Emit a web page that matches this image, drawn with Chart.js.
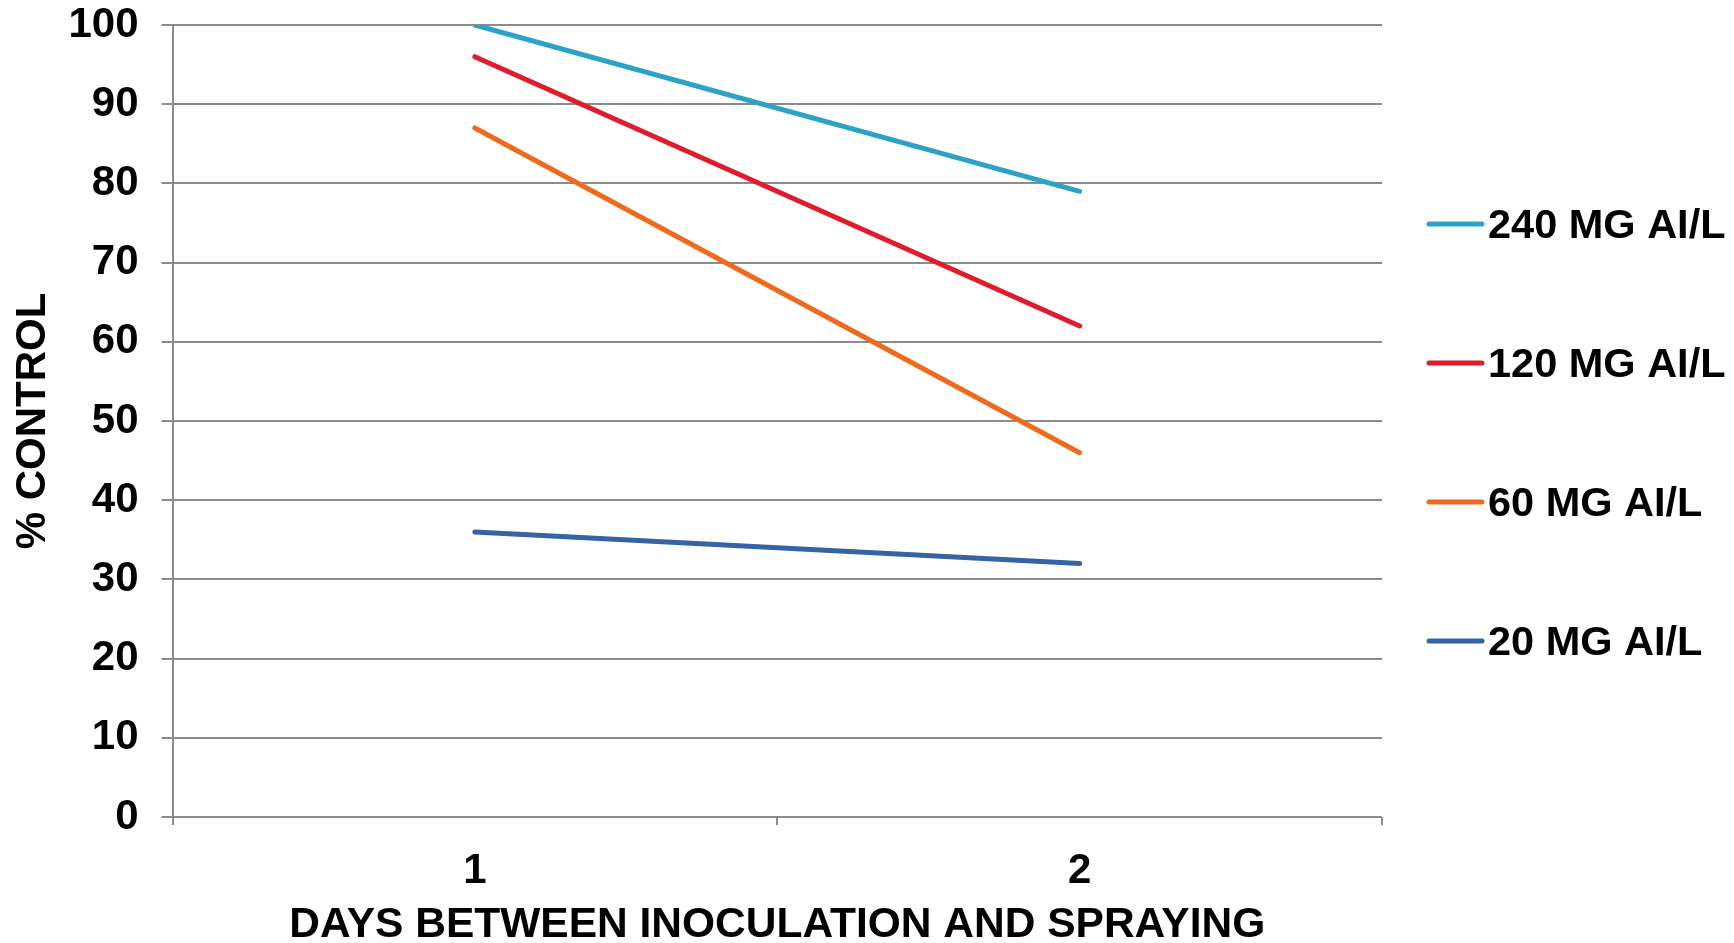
<!DOCTYPE html>
<html>
<head>
<meta charset="utf-8">
<script src="https://cdn.jsdelivr.net/npm/chart.js@4/dist/chart.umd.min.js"></script>
<style>
  html, body { margin: 0; padding: 0; background: #fff; }
  #wrap { width: 1734px; height: 943px; }
</style>
</head>
<body>
<div id="wrap"><canvas id="controlChart"></canvas></div>
<script>
const days = ['1', '2'];
const seriesNames = ['240 MG AI/L', '120 MG AI/L', '60 MG AI/L', '20 MG AI/L'];
const dose240 = [100, 79];
const dose120 = [96, 62];
const dose60 = [87, 46];
const dose20 = [36, 32];
const seriesColors = ['#2ba3c6', '#e01b2a', '#ee6a1d', '#3563a5'];

const FONT = "'Liberation Sans', Arial, sans-serif";
const GRID = '#8c8c8c';

// Legend drawn at the right: a short coloured line followed by the label
const sideLegend = {
    id: 'sideLegend',
    afterDraw(chart, args, opts) {
        const ctx = chart.ctx;
        ctx.save();
        ctx.font = 'bold 41.5px ' + FONT;
        ctx.textBaseline = 'middle';
        ctx.textAlign = 'left';
        chart.data.datasets.forEach((ds, i) => {
            const y = opts.top + i * opts.step;
            ctx.strokeStyle = ds.borderColor;
            ctx.lineWidth = 5;
            ctx.lineCap = 'round';
            ctx.beginPath();
            ctx.moveTo(opts.x, y);
            ctx.lineTo(opts.x + opts.lineLen, y);
            ctx.stroke();
            ctx.fillStyle = '#000';
            ctx.fillText(ds.label, opts.x + opts.lineLen + 6, y + 3);
        });
        ctx.restore();
    }
};

function makeSet(i, data) {
    return {
        label: seriesNames[i],
        data: data,
        borderColor: seriesColors[i],
        backgroundColor: seriesColors[i],
        borderWidth: 5,
        borderCapStyle: 'round',
        pointRadius: 0,
        tension: 0
    };
}

const ctx = document.getElementById('controlChart').getContext('2d');
new Chart(ctx, {
    type: 'line',
    data: {
        labels: days,
        datasets: [
            makeSet(0, dose240),
            makeSet(1, dose120),
            makeSet(2, dose60),
            makeSet(3, dose20)
        ]
    },
    options: {
        responsive: true,
        maintainAspectRatio: false,
        animation: false,
        layout: { padding: { left: 0, right: 352, top: 25, bottom: 0 } },
        plugins: {
            legend: { display: false },
            tooltip: { enabled: false },
            sideLegend: { x: 1429, top: 224, step: 139, lineLen: 53 }
        },
        scales: {
            x: {
                offset: true,
                grid: {
                    offset: true,
                    drawOnChartArea: false,
                    color: GRID,
                    lineWidth: 2,
                    tickLength: 8
                },
                border: { display: false },
                ticks: {
                    color: '#000',
                    padding: 21,
                    font: { family: FONT, size: 42, weight: 'bold' }
                },
                title: {
                    display: true,
                    text: 'DAYS BETWEEN INOCULATION AND SPRAYING',
                    color: '#000',
                    padding: 0,
                    font: { family: FONT, size: 42.5, weight: 'bold', lineHeight: 0.85 }
                },
                afterFit(axis) { axis.height = 126; }
            },
            y: {
                min: 0,
                max: 100,
                ticks: {
                    stepSize: 10,
                    color: '#000',
                    padding: 23,
                    font: { family: FONT, size: 42, weight: 'bold' }
                },
                grid: {
                    color: GRID,
                    lineWidth: 2,
                    tickLength: 11
                },
                border: { color: GRID, width: 2 },
                title: {
                    display: true,
                    text: '% CONTROL',
                    color: '#000',
                    padding: { top: 8, bottom: 0 },
                    font: { family: FONT, size: 42, weight: 'bold' }
                },
                afterFit(axis) {
                    axis.width = 172.5;
                    axis.paddingTop = 0;
                    axis.paddingBottom = 0;
                }
            }
        }
    },
    plugins: [sideLegend]
});
</script>
</body>
</html>
